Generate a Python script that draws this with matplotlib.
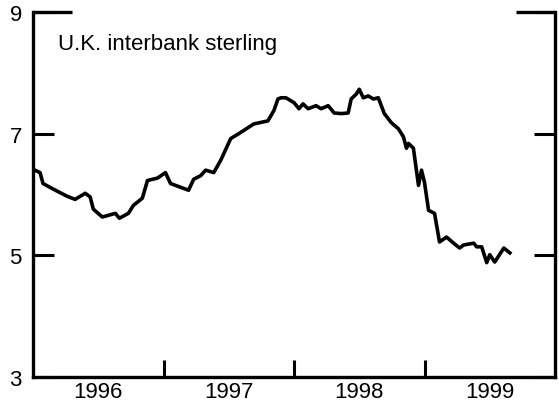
import matplotlib.pyplot as plt
import matplotlib.transforms as mtransforms

plt.rcParams['font.family'] = ['Liberation Sans', 'DejaVu Sans']

# decimal years and rate (percent)
years = [1996.015, 1996.054, 1996.077, 1996.154, 1996.262, 1996.323, 1996.400, 1996.438,
         1996.462, 1996.531, 1996.631, 1996.662, 1996.731, 1996.769, 1996.838, 1996.877,
         1996.954, 1997.015, 1997.054, 1997.192, 1997.231, 1997.285, 1997.323, 1997.385,
         1997.438, 1997.515, 1997.577, 1997.692, 1997.800, 1997.846, 1997.877, 1997.900,
         1997.938, 1998.000, 1998.038, 1998.069, 1998.108, 1998.169, 1998.208, 1998.262,
         1998.308, 1998.362, 1998.415, 1998.438, 1998.477, 1998.500, 1998.531, 1998.569,
         1998.608, 1998.646, 1998.692, 1998.746, 1998.800, 1998.838, 1998.862, 1998.877,
         1998.915, 1998.954, 1998.977, 1999.000, 1999.031, 1999.077, 1999.115, 1999.169,
         1999.223, 1999.269, 1999.300, 1999.377, 1999.400, 1999.438, 1999.477, 1999.500,
         1999.538, 1999.608, 1999.654]
rate = [6.40, 6.36, 6.18, 6.09, 5.97, 5.92, 6.02, 5.96,
        5.76, 5.63, 5.69, 5.61, 5.69, 5.82, 5.94, 6.23,
        6.27, 6.36, 6.18, 6.07, 6.25, 6.31, 6.40, 6.36,
        6.56, 6.92, 7.00, 7.16, 7.21, 7.38, 7.57, 7.59,
        7.59, 7.51, 7.41, 7.49, 7.41, 7.46, 7.41, 7.46,
        7.34, 7.33, 7.34, 7.57, 7.65, 7.73, 7.59, 7.62,
        7.57, 7.59, 7.33, 7.18, 7.08, 6.95, 6.76, 6.84,
        6.76, 6.15, 6.40, 6.20, 5.74, 5.69, 5.22, 5.30,
        5.20, 5.12, 5.17, 5.20, 5.14, 5.14, 4.88, 5.01,
        4.89, 5.12, 5.04]

year_labels = ['1996', '1997', '1998', '1999']
y_ticks = [3, 5, 7, 9]

fig = plt.figure(figsize=(5.59, 4.06), dpi=100)
ax = fig.add_axes([33/559, 28/406, 522/559, 365/406])

ax.plot(years, rate, color='black', lw=2.6, solid_joinstyle='round')

ax.set_xlim(1996, 2000)
ax.set_ylim(3, 9)

# year boundaries as ticks, labels in the middle of each year
ax.set_xticks([1997, 1998, 1999])
ax.set_xticklabels([])
ax.set_xticks([y + 0.5 for y in range(1996, 2000)], minor=True)
ax.set_xticklabels(year_labels, minor=True, fontsize=16)
ax.tick_params(axis='x', which='major', direction='in', length=12, width=2.2)
ax.tick_params(axis='x', which='minor', length=0, pad=3)

ax.set_yticks(y_ticks)
ax.set_yticklabels([str(t) for t in y_ticks], fontsize=16)
ax.tick_params(axis='y', direction='in', length=15, width=2.2, left=True, right=True, pad=8)

for s in ['left', 'right', 'bottom']:
    ax.spines[s].set_linewidth(2.4)
ax.spines['top'].set_visible(False)

# short top corner bars at 9
trans = mtransforms.blended_transform_factory(ax.transAxes, ax.transData)
ax.plot([0, 0.075], [9, 9], color='black', lw=2.4, transform=trans, clip_on=False,
        solid_capstyle='butt')
ax.plot([0.925, 1], [9, 9], color='black', lw=2.4, transform=trans, clip_on=False,
        solid_capstyle='butt')

ax.text(0.048, 0.915, 'U.K. interbank sterling', transform=ax.transAxes,
        fontsize=16, va='center', ha='left')

fig.savefig('out.png', dpi=100)
